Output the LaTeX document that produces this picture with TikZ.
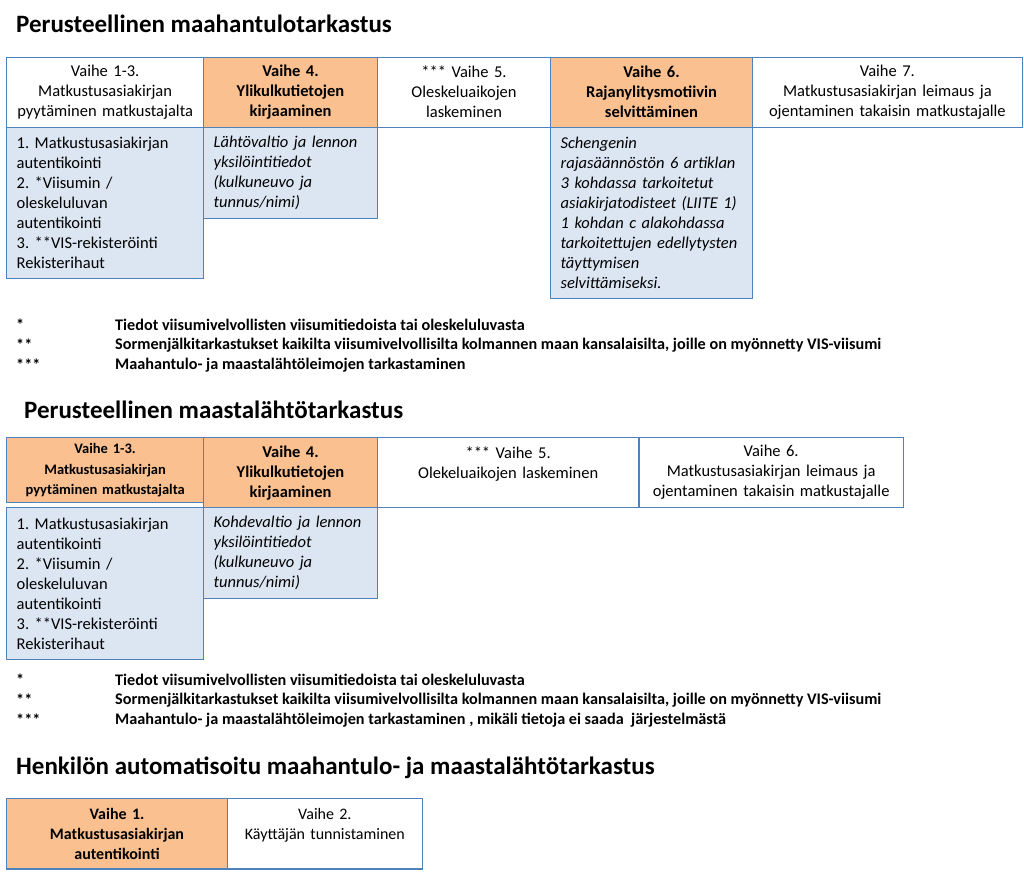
\documentclass[tikz,border=0pt]{standalone}
\usepackage{fontspec}
\setmainfont{Carlito}
\definecolor{boxblue}{RGB}{79,129,189}
\definecolor{hotfill}{RGB}{250,192,144}
\definecolor{notefill}{RGB}{220,230,242}
\frenchspacing
\begin{document}
\begin{tikzpicture}[x=1pt, y=-1pt,
        box/.style={draw=boxblue, line width=1.3pt, anchor=north west,
            inner ysep=0pt, inner xsep=10pt, align=center,
            font=\fontsize{16.5}{20}\selectfont},
        size/.style 2 args={text width=#1, minimum height=#2},
        phase/.style={box, fill=white},
        hot/.style={box, fill=hotfill, font=\fontsize{16.5}{20}\selectfont\bfseries},
        note/.style={box, fill=notefill, align=left},
        title/.style={anchor=west, inner sep=0pt, font=\fontsize{25}{29}\selectfont\bfseries},
        foot/.style={anchor=west, inner sep=0pt, font=\fontsize{16.2}{20}\selectfont\bfseries},
    ]
    \useasboundingbox (0,0) rectangle (1024,873);

    % maahantulo
    \node[title] (T1) at (16,24) {Perusteellinen maahantulotarkastus};

    \node[note, size={177pt}{151.5pt}] (D1) at (6,126.5) {1. Matkustusasiakirjan\\autentikointi\\2. *Viisumin /\\oleskeluluvan\\autentikointi\\3. **VIS-rekisteröinti\\Rekisterihaut};
    \node[note, size={153.7pt}{91pt}, font=\fontsize{16.5}{20}\selectfont\itshape] (D2) at (203,126.5) {Lähtövaltio ja lennon\\yksilöintitiedot\\(kulkuneuvo ja\\tunnus/nimi)};
    \node[note, size={181.7pt}{171.5pt}, font=\fontsize{16.5}{20}\selectfont\itshape] (D6) at (550,126.5) {Schengenin\\rajasäännöstön 6 artiklan\\3 kohdassa tarkoitetut\\asiakirjatodisteet (LIITE 1)\\1 kohdan c alakohdassa\\tarkoitettujen edellytysten\\täyttymisen\\selvittämiseksi.};

    \node[phase, size={177pt}{70pt}] (A1) at (6,56.5) {Vaihe 1-3.\\Matkustusasiakirjan\\pyytäminen matkustajalta};
    \node[hot, size={153.7pt}{70pt}] (A4) at (203,56.5) {Vaihe 4.\\Ylikulkutietojen\\kirjaaminen};
    \node[phase, size={153.3pt}{70pt}] (A5) at (376.7,56.5) {*** Vaihe 5.\\Oleskeluaikojen\\laskeminen};
    \node[hot, size={181.7pt}{70pt}] (A6) at (550,56.5) {Vaihe 6.\\Rajanylitysmotiivin\\selvittäminen};
    \node[phase, size={250pt}{70pt}] (A7) at (751.7,56.5) {Vaihe 7.\\Matkustusasiakirjan leimaus ja\\ojentaminen takaisin matkustajalle};

    \node[foot] (m1) at (16,325) {*};
    \node[foot] (n1) at (115,325) {Tiedot viisumivelvollisten viisumitiedoista tai oleskeluluvasta};
    \node[foot] (m2) at (16,345) {**};
    \node[foot] (n2) at (115,345) {Sormenjälkitarkastukset kaikilta viisumivelvollisilta kolmannen maan kansalaisilta, joille on myönnetty VIS-viisumi};
    \node[foot] (m3) at (16,365) {***};
    \node[foot] (n3) at (115,365) {Maahantulo- ja maastalähtöleimojen tarkastaminen};

    % maastalähtö
    \node[title] (T2) at (24,410) {Perusteellinen maastalähtötarkastus};

    \node[note, size={177pt}{152pt}] (E1) at (6,507) {1. Matkustusasiakirjan\\autentikointi\\2. *Viisumin /\\oleskeluluvan\\autentikointi\\3. **VIS-rekisteröinti\\Rekisterihaut};
    \node[note, size={153.7pt}{91pt}, font=\fontsize{16.5}{20}\selectfont\itshape] (E2) at (203,507) {Kohdevaltio ja lennon\\yksilöintitiedot\\(kulkuneuvo ja\\tunnus/nimi)};

    \node[hot, size={177pt}{65pt}, font=\fontsize{14.5}{20.5}\selectfont\bfseries] (B1) at (6,437) {Vaihe 1-3.\\Matkustusasiakirjan\\pyytäminen matkustajalta};
    \node[hot, size={153.7pt}{70pt}] (B4) at (203,437) {Vaihe 4.\\Ylikulkutietojen\\kirjaaminen};
    \node[phase, size={241.6pt}{70pt}] (B5) at (376.7,437) {*** Vaihe 5.\\Olekeluaikojen laskeminen\\~};
    \node[phase, size={244.4pt}{70pt}] (B6) at (638.3,437) {Vaihe 6.\\Matkustusasiakirjan leimaus ja\\ojentaminen takaisin matkustajalle};

    \node[foot] (p1) at (16,680) {*};
    \node[foot] (q1) at (115,680) {Tiedot viisumivelvollisten viisumitiedoista tai oleskeluluvasta};
    \node[foot] (p2) at (16,700) {**};
    \node[foot] (q2) at (115,700) {Sormenjälkitarkastukset kaikilta viisumivelvollisilta kolmannen maan kansalaisilta, joille on myönnetty VIS-viisumi};
    \node[foot] (p3) at (16,720) {***};
    \node[foot] (q3) at (115,720) {Maahantulo- ja maastalähtöleimojen tarkastaminen , mikäli tietoja ei saada~ järjestelmästä};

    % automatisoitu
    \node[title] (T3) at (16,768) {Henkilön automatisoitu maahantulo- ja maastalähtötarkastus};

    \node[hot, size={200.7pt}{70.6pt}, font=\fontsize{16}{20}\selectfont\bfseries] (C1) at (6,797.7) {Vaihe 1.\\Matkustusasiakirjan\\autentikointi};
    \node[phase, size={175pt}{70.6pt}, font=\fontsize{16}{20}\selectfont] (C2) at (226.7,797.7) {Vaihe 2.\\Käyttäjän tunnistaminen\\~};
\end{tikzpicture}
\end{document}
